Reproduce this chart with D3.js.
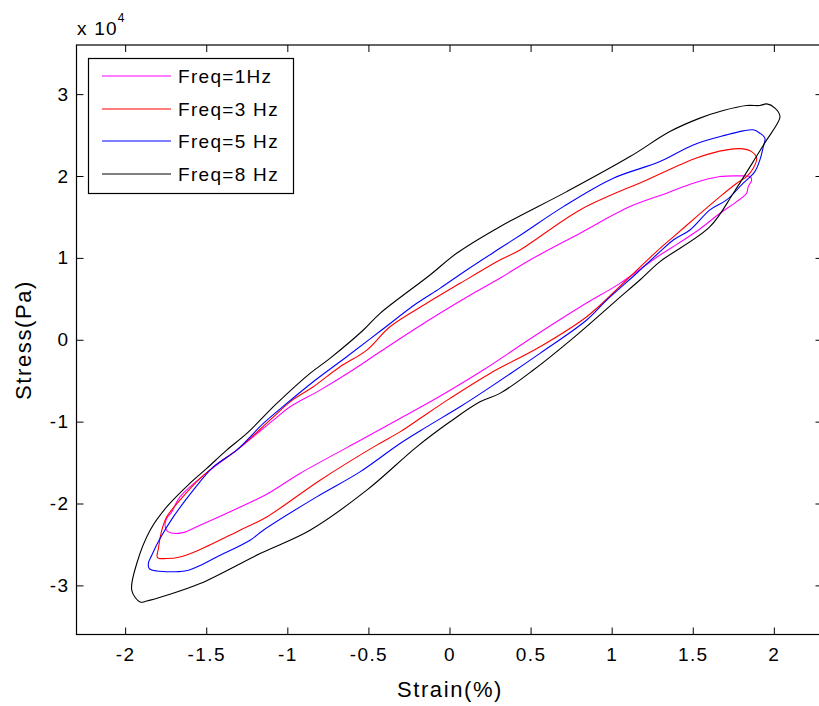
<!DOCTYPE html>
<html>
<head>
<meta charset="utf-8">
<script src="https://cdn.jsdelivr.net/npm/d3@7"></script>
<style>
  body { margin: 0; background: #fff; }
  svg { display: block; font-family: "Liberation Sans", Arial, sans-serif; }
</style>
</head>
<body>
<div id="chart"></div>
<script>
// loops, strain in %, stress in 1e4 Pa
const strain1 = [-1.734,-1.754,-1.744,-1.713,-1.662,-1.477,-1.312,-1.086,-0.983,-0.798,-0.613,-0.428,-0.223,-0.059,0.147,0.311,0.496,0.805,1.113,1.339,1.503,1.668,1.791,1.853,1.863,1.842,1.832,1.771,1.668,1.544,1.380,1.298,1.051,0.825,0.517,0.208,-0.100,-0.305,-0.510,-0.922,-1.127,-1.333,-1.538,-1.651];
const stress1 = [-2.347,-2.265,-2.183,-2.103,-1.919,-1.593,-1.348,-0.982,-0.819,-0.615,-0.391,-0.147,0.119,0.323,0.567,0.751,0.974,1.301,1.626,1.790,1.912,1.993,2.001,1.993,1.952,1.870,1.790,1.687,1.545,1.353,1.137,1.035,0.689,0.424,0.037,-0.370,-0.737,-0.961,-1.186,-1.633,-1.886,-2.082,-2.265,-2.359];

const strain3 = [-1.801,-1.795,-1.774,-1.744,-1.662,-1.538,-1.415,-1.312,-1.107,-0.983,-0.842,-0.675,-0.510,-0.367,-0.141,0.065,0.311,0.435,0.805,1.216,1.421,1.514,1.709,1.811,1.863,1.894,1.873,1.832,1.771,1.668,1.524,1.359,1.298,1.092,0.846,0.558,0.250,0.003,-0.182,-0.305,-0.449,-0.798,-1.127,-1.292,-1.538,-1.662,-1.744];
const stress3 = [-2.660,-2.550,-2.326,-2.164,-1.960,-1.694,-1.491,-1.348,-0.982,-0.758,-0.578,-0.330,-0.126,0.159,0.445,0.689,0.974,1.097,1.586,1.952,2.136,2.215,2.319,2.331,2.298,2.218,2.095,1.993,1.912,1.748,1.504,1.219,1.117,0.730,0.281,-0.086,-0.411,-0.716,-0.961,-1.125,-1.287,-1.715,-2.164,-2.326,-2.562,-2.653,-2.672];

const strain5 = [-1.857,-1.836,-1.785,-1.703,-1.580,-1.456,-1.312,-1.148,-1.004,-0.840,-0.634,-0.418,-0.202,-0.059,0.106,0.311,0.455,0.702,1.010,1.298,1.503,1.709,1.811,1.873,1.914,1.945,1.935,1.914,1.883,1.811,1.709,1.606,1.483,1.380,1.298,1.154,0.969,0.846,0.558,0.270,0.065,-0.141,-0.305,-0.552,-0.819,-1.148,-1.230,-1.435,-1.559,-1.631,-1.805,-1.851];
const stress5 = [-2.733,-2.632,-2.428,-2.164,-1.837,-1.553,-1.348,-1.022,-0.778,-0.513,-0.208,0.119,0.445,0.628,0.852,1.117,1.301,1.626,1.973,2.176,2.380,2.502,2.551,2.564,2.523,2.462,2.359,2.197,2.054,1.912,1.708,1.586,1.341,1.219,1.076,0.812,0.485,0.241,-0.166,-0.554,-0.819,-1.064,-1.267,-1.614,-1.919,-2.326,-2.449,-2.653,-2.775,-2.824,-2.824,-2.795];

const strain8 = [-1.908,-1.959,-1.928,-1.846,-1.744,-1.600,-1.497,-1.374,-1.250,-1.065,-0.860,-0.737,-0.531,-0.428,-0.120,0.044,0.311,0.723,1.113,1.359,1.544,1.688,1.832,1.914,1.956,2.007,2.038,2.017,1.956,1.873,1.750,1.606,1.298,1.174,1.031,0.784,0.517,0.311,0.188,0.003,-0.202,-0.510,-0.860,-1.168,-1.538,-1.744,-1.867];
const stress8 = [-3.203,-3.060,-2.730,-2.326,-2.042,-1.752,-1.572,-1.348,-1.144,-0.778,-0.411,-0.227,0.119,0.323,0.791,1.056,1.381,1.809,2.237,2.543,2.707,2.800,2.861,2.861,2.881,2.829,2.726,2.625,2.441,2.176,1.790,1.381,0.954,0.730,0.485,0.057,-0.370,-0.655,-0.758,-1.002,-1.308,-1.837,-2.326,-2.611,-2.978,-3.121,-3.191];

const seriesNames = ["Freq=1Hz", "Freq=3 Hz", "Freq=5 Hz", "Freq=8 Hz"];
const seriesColors = ["#ff00ff", "#ff0000", "#0000ff", "#000000"];
const xTicks = [-2, -1.5, -1, -0.5, 0, 0.5, 1, 1.5, 2];
const yTicks = [-3, -2, -1, 0, 1, 2, 3];

const W = 819, H = 706;
const plot = {left: 76.5, right: 822.5, top: 45, bottom: 634.5};

const svg = d3.select("#chart").append("svg")
    .attr("width", W)
    .attr("height", H);

const x = d3.scaleLinear().domain([-2.3, 2.3]).range([plot.left, plot.right]);
const y = d3.scaleLinear().domain([-3.6, 3.6]).range([plot.bottom, plot.top]);

const loops = [
    {strain: strain1, stress: stress1},
    {strain: strain3, stress: stress3},
    {strain: strain5, stress: stress5},
    {strain: strain8, stress: stress8}
].map(function (s, i) {
    return {
        name: seriesNames[i],
        color: seriesColors[i],
        pts: s.strain.map(function (v, j) { return [v, s.stress[j]]; })
    };
});

// axes, ticks pointing in like matlab
const fmt = function (d) { return String(d); };
svg.append("g")
    .attr("transform", "translate(0," + plot.bottom + ")")
    .call(d3.axisBottom(x).tickValues(xTicks).tickSize(-7).tickPadding(13).tickFormat(fmt))
    .call(function (g) { g.select(".domain").remove(); });
svg.append("g")
    .attr("transform", "translate(0," + plot.top + ")")
    .call(d3.axisTop(x).tickValues(xTicks).tickSize(-7).tickFormat(""))
    .call(function (g) { g.select(".domain").remove(); });
svg.append("g")
    .attr("transform", "translate(" + plot.left + ",0)")
    .call(d3.axisLeft(y).tickValues(yTicks).tickSize(-7).tickPadding(7).tickFormat(fmt))
    .call(function (g) { g.select(".domain").remove(); });
svg.append("g")
    .attr("transform", "translate(" + plot.right + ",0)")
    .call(d3.axisRight(y).tickValues(yTicks).tickSize(-7).tickFormat(""))
    .call(function (g) { g.select(".domain").remove(); });

svg.selectAll(".tick text")
    .attr("font-size", 19)
    .attr("letter-spacing", 1.4)
    .attr("font-family", "Liberation Sans, Arial, sans-serif")
    .attr("fill", "#000");
svg.selectAll(".tick line").attr("stroke", "#000");

// loops
const line = d3.line()
    .x(function (d) { return x(d[0]); })
    .y(function (d) { return y(d[1]); })
    .curve(d3.curveCatmullRomClosed.alpha(0.5));

svg.append("g").selectAll("path")
    .data(loops)
    .enter().append("path")
    .attr("d", function (d) { return line(d.pts); })
    .attr("fill", "none")
    .attr("stroke", function (d) { return d.color; })
    .attr("stroke-width", 1.1);

// frame
svg.append("rect")
    .attr("x", plot.left)
    .attr("y", plot.top)
    .attr("width", plot.right - plot.left)
    .attr("height", plot.bottom - plot.top)
    .attr("fill", "none")
    .attr("stroke", "#000")
    .attr("stroke-width", 1.2);

// exponent label
const expo = svg.append("text")
    .attr("x", 77)
    .attr("y", 35)
    .attr("font-size", 19)
    .attr("letter-spacing", 1.2)
    .text("x 10");
expo.append("tspan")
    .attr("dy", -13)
    .attr("font-size", 12)
    .text("4");

// axis titles
svg.append("text")
    .attr("x", 450)
    .attr("y", 697)
    .attr("text-anchor", "middle")
    .attr("font-size", 22)
    .attr("letter-spacing", 1.6)
    .text("Strain(%)");
svg.append("text")
    .attr("transform", "translate(31,340) rotate(-90)")
    .attr("text-anchor", "middle")
    .attr("font-size", 22)
    .attr("letter-spacing", 1.6)
    .text("Stress(Pa)");

// legend
const legend = svg.append("g");
legend.append("rect")
    .attr("x", 88.5)
    .attr("y", 58.5)
    .attr("width", 205)
    .attr("height", 135)
    .attr("fill", "#fff")
    .attr("stroke", "#000")
    .attr("stroke-width", 1.2);
const rowY = [76, 109, 141, 174];
const items = legend.selectAll("g.item")
    .data(loops)
    .enter().append("g")
    .attr("class", "item")
    .attr("transform", function (d, i) { return "translate(0," + rowY[i] + ")"; });
items.append("line")
    .attr("x1", 102).attr("x2", 171)
    .attr("y1", 0).attr("y2", 0)
    .attr("stroke", function (d) { return d.color; })
    .attr("stroke-width", 1.1);
items.append("text")
    .attr("x", 178)
    .attr("y", 0)
    .attr("dy", "0.35em")
    .attr("font-size", 19)
    .attr("letter-spacing", 1.3)
    .text(function (d) { return d.name; });
</script>
</body>
</html>
